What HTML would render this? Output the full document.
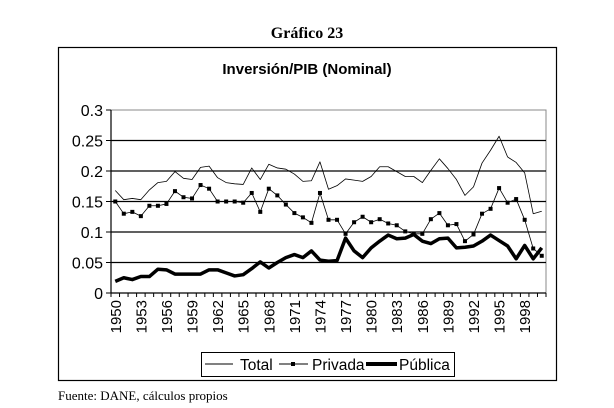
<!DOCTYPE html>
<html><head><meta charset="utf-8"><style>
body{margin:0;background:#fff;width:614px;height:408px;overflow:hidden;position:relative}
</style></head><body>
<svg width="614" height="408" viewBox="0 0 614 408" style="position:absolute;left:0;top:0">
<text x="307" y="38" text-anchor="middle" font-family="Liberation Serif, serif" font-weight="bold" font-size="16">Gráfico 23</text>
<rect x="58.5" y="47.5" width="498" height="333" fill="none" stroke="#000" stroke-width="1.2"/>
<text x="307" y="74" text-anchor="middle" font-family="Liberation Sans, sans-serif" font-weight="bold" font-size="15">Inversión/PIB (Nominal)</text>
<g id="grid"></g><g id="axes"></g><g id="series"></g>
<g>
<rect x="201.5" y="352.5" width="253" height="24" fill="#fff" stroke="#000"/>
<line x1="205" y1="364" x2="233" y2="364" stroke="#000" stroke-width="1"/>
<text x="240" y="370" font-family="Liberation Sans, sans-serif" font-size="15.5">Total</text>
<line x1="279" y1="364" x2="308" y2="364" stroke="#000" stroke-width="1"/>
<rect x="291" y="362" width="4" height="4" fill="#000"/>
<text x="312" y="370" font-family="Liberation Sans, sans-serif" font-size="15.5">Privada</text>
<line x1="366" y1="364" x2="397" y2="364" stroke="#000" stroke-width="4"/>
<text x="399" y="370" font-family="Liberation Sans, sans-serif" font-size="15.5">Pública</text>
</g>
<text x="58" y="400" font-family="Liberation Serif, serif" font-size="13">Fuente: DANE, cálculos propios</text>
</svg>
<script>
const years = [];
for (let y = 1950; y <= 2000; y++) years.push(y);
const total = [0.168,0.153,0.155,0.153,0.169,0.181,0.183,0.199,0.188,0.186,0.206,0.208,0.189,0.181,0.179,0.178,0.205,0.186,0.211,0.205,0.203,0.195,0.183,0.184,0.215,0.170,0.176,0.187,0.185,0.183,0.191,0.207,0.207,0.199,0.191,0.191,0.181,0.201,0.220,0.204,0.186,0.160,0.174,0.213,0.234,0.257,0.223,0.214,0.197,0.130,0.134];
const privada = [0.150,0.130,0.133,0.126,0.143,0.143,0.146,0.167,0.157,0.155,0.177,0.171,0.150,0.150,0.150,0.148,0.164,0.133,0.171,0.160,0.145,0.131,0.124,0.115,0.164,0.120,0.120,0.097,0.116,0.125,0.116,0.121,0.114,0.111,0.101,0.097,0.097,0.121,0.131,0.111,0.113,0.085,0.096,0.130,0.138,0.172,0.148,0.154,0.120,0.073,0.061];
const publica = [0.019,0.025,0.022,0.027,0.027,0.039,0.038,0.031,0.031,0.031,0.031,0.038,0.038,0.033,0.028,0.030,0.040,0.051,0.041,0.050,0.058,0.063,0.058,0.069,0.054,0.052,0.053,0.090,0.069,0.058,0.074,0.085,0.095,0.089,0.090,0.096,0.085,0.081,0.089,0.090,0.074,0.075,0.077,0.085,0.095,0.086,0.077,0.056,0.078,0.056,0.074];
const yTicks = [0,0.05,0.1,0.15,0.2,0.25,0.3];
const yTickLabels = ["0","0.05","0.1","0.15","0.2","0.25","0.3"];
const NS='http://www.w3.org/2000/svg';
const L=111, R=546, T=110, B=293;
const step=(R-L)/years.length;
const xs=i=>L+step*(i+0.5);
const ys=v=>B-(v/0.3)*(B-T);
function mk(tag,attrs,parent){const e=document.createElementNS(NS,tag);for(const k in attrs)e.setAttribute(k,attrs[k]);parent.appendChild(e);return e;}
const grid=document.getElementById('grid'),axes=document.getElementById('axes'),ser=document.getElementById('series');
mk('rect',{x:L,y:T,width:R-L,height:B-T,fill:'none',stroke:'#888','stroke-width':1},grid);
yTicks.forEach((v,i)=>{
  const y=ys(v);
  if(v>0&&v<0.3){const g=mk('line',{x1:L,x2:R,y1:y,y2:y,stroke:'#000','stroke-width':1.2},grid);
  
  }
  mk('line',{x1:L-5,x2:L,y1:y,y2:y,stroke:'#000'},axes);
  const t=mk('text',{x:L-8,y:y+6,'text-anchor':'end','font-family':'Liberation Sans, sans-serif','font-size':16},axes);
  t.textContent=yTickLabels[i];
  
  
});
mk('line',{x1:L,x2:L,y1:T,y2:B,stroke:'#000','stroke-width':1.2},axes);
mk('line',{x1:L,x2:R,y1:B,y2:B,stroke:'#000','stroke-width':1.2},axes);
for(let k=0;k<=years.length;k++){const x=L+step*k;mk('line',{x1:x,x2:x,y1:B,y2:B+4,stroke:'#000'},axes);}
years.forEach((yr,i)=>{
  if((yr-1950)%3!==0||yr>1998)return;
  const x=xs(i);
  const t=mk('text',{x:0,y:0,transform:`translate(${x+5.5},${B+7}) rotate(-90)`,'text-anchor':'end','font-family':'Liberation Sans, sans-serif','font-size':15},axes);
  t.textContent=yr;
  
  
});
function line(data,w,name){
  const p=mk('polyline',{points:data.map((v,i)=>xs(i)+','+ys(v)).join(' '),fill:'none',stroke:'#000','stroke-width':w,'stroke-linejoin':'round'},ser);
  
  
}
line(total,0.8,'total-line');
line(privada,0.8,'privada-line');
privada.forEach((v,i)=>{
  const m=mk('rect',{x:xs(i)-2,y:ys(v)-2,width:4,height:4,fill:'#000'},ser);
  
  
});
line(publica,3.5,'publica-line');
</script>
</body></html>
